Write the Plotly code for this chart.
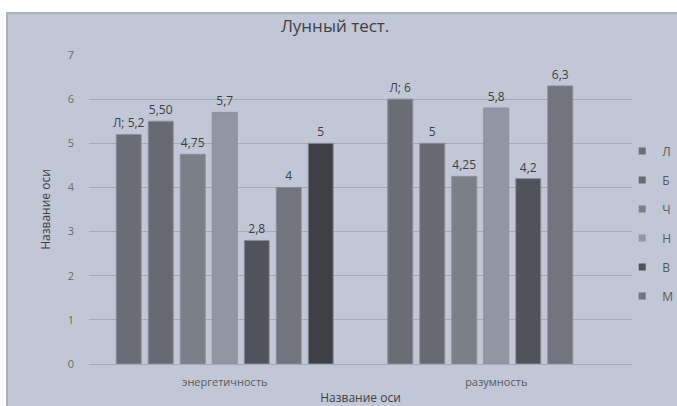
import plotly.graph_objects as go

categories = ["энергетичность", "разумность"]
series_names = ["Л", "Б", "Ч", "Н", "В", "М", ""]
series_values = [
    [5.2, 6],
    [5.5, 5],
    [4.75, 4.25],
    [5.7, 5.8],
    [2.8, 4.2],
    [4, 6.3],
    [5, None],
]
series_labels = [
    ["Л; 5,2", "Л; 6"],
    ["5,50", "5"],
    ["4,75", "4,25"],
    ["5,7", "5,8"],
    ["2,8", "4,2"],
    ["4", "6,3"],
    ["5", ""],
]
colors = ["#6a6d76", "#676a72", "#7b7f88", "#9097a2", "#50535b", "#72757e", "#3f4045"]
y_ticks = [0, 1, 2, 3, 4, 5, 6, 7]

FONT = "Open Sans"
fig = go.Figure()
for i, (name, vals, labs, col) in enumerate(zip(series_names, series_values, series_labels, colors)):
    fig.add_trace(go.Bar(
        x=categories, y=vals, name=name, text=labs,
        textposition="outside", cliponaxis=False, constraintext="none",
        textfont=dict(family=FONT, size=12, color="#404040"),
        marker=dict(color=col, line=dict(color="#8a8f9a", width=1)),
        showlegend=False,
    ))
    if name:
        # legend entry with a small square marker, as in the reference
        fig.add_trace(go.Scatter(
            x=[None], y=[None], mode="markers", name=name,
            marker=dict(symbol="square", size=7, color=col),
            legendgroup=f"g{i}", showlegend=True, hoverinfo="skip",
        ))

fig.update_layout(
    width=677, height=406,
    margin=dict(l=89, r=45, t=55, b=42, autoexpand=False),
    paper_bgcolor="white",
    plot_bgcolor="rgba(0,0,0,0)",
    barmode="group", bargap=0.175, bargroupgap=0.22,
    font=dict(family=FONT, color="#595959"),
    title=dict(text="Лунный тест.", x=0.495, xanchor="center", y=0.935, yanchor="middle",
               font=dict(family=FONT, size=17, color="#404040"), automargin=False),
    xaxis=dict(showgrid=False, showline=False, zeroline=False, automargin=False,
               tickfont=dict(size=11, color="#595959"), ticklabelstandoff=10,
               title=dict(text="Название оси", font=dict(size=12, color="#404040"), standoff=6)),
    yaxis=dict(range=[0, 7], tickvals=y_ticks, showgrid=True, gridcolor="#a4aab7", gridwidth=1,
               zeroline=True, zerolinecolor="#a4aab7", zerolinewidth=1, automargin=False,
               tickfont=dict(size=11, color="#6b6b6b"), ticklabelstandoff=14,
               title=dict(text="Название оси", font=dict(size=12, color="#404040"), standoff=14)),
    legend=dict(x=0.982, xanchor="left", y=0.455, yanchor="middle", tracegroupgap=10,
                font=dict(size=12, color="#595959"), bgcolor="rgba(0,0,0,0)"),
    shapes=[dict(type="rect", xref="paper", yref="paper", x0=-0.151, x1=1.09, y0=-0.15, y1=1.136,
                 fillcolor="#c1c7d7", line=dict(color="#a9afbb", width=2), layer="below")],
)
fig.write_html("out.html", config={"displayModeBar": False},
               post_script="document.body.style.margin='0';")
